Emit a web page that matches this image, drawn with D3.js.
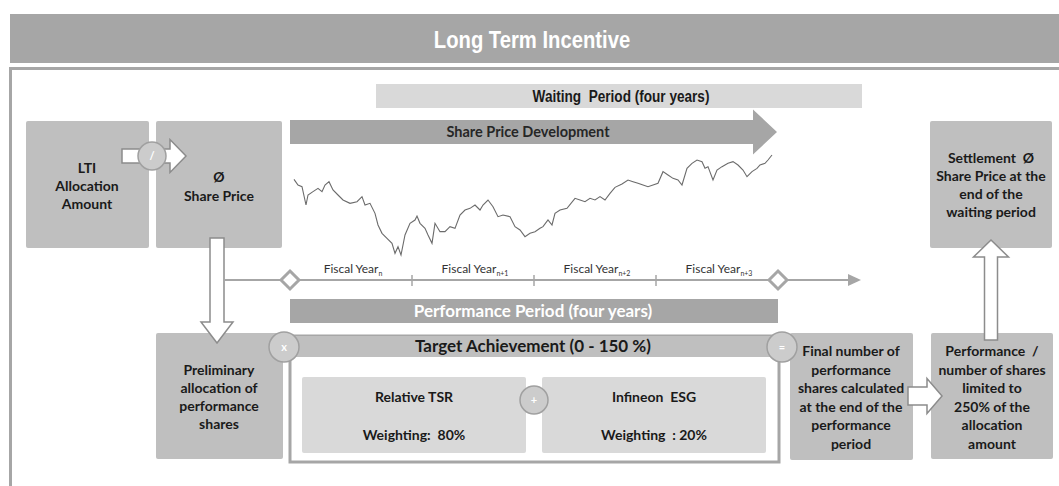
<!DOCTYPE html>
<html>
<head>
<meta charset="utf-8">
<script src="https://cdn.jsdelivr.net/npm/d3@7"></script>
<style>
  body { margin: 0; background: #fff; }
  svg { display: block; }
  .box text { font-family: Lato, "Open Sans", sans-serif; font-weight: 700; font-size: 14px; fill: #1a1a1a; }
</style>
</head>
<body>
<svg id="chart" width="1059" height="486"></svg>
<script>
// share price path (trading day index, price)
const priceDays = [0, 4, 8, 12, 14, 19, 24, 28, 31, 35, 39, 44, 49, 56, 63, 68, 71, 76, 81, 84, 88, 93, 98, 101, 104, 107, 111, 116, 121, 123, 126, 131, 134, 138, 141, 146, 151, 156, 161, 166, 171, 176, 181, 186, 189, 194, 199, 204, 209, 216, 221, 226, 231, 236, 241, 246, 249, 254, 258, 261, 266, 273, 281, 286, 291, 296, 301, 306, 311, 316, 321, 328, 334, 339, 344, 349, 354, 359, 364, 369, 374, 379, 384, 388, 393, 398, 403, 408, 411, 414, 419, 423, 428, 434, 439, 444, 449, 453, 458, 463, 466, 471, 474, 478];
const priceValues = [27.2, 25.5, 25.0, 19.5, 22.5, 23.5, 24.5, 23.5, 25.5, 26.5, 24.0, 22.5, 21.0, 20.0, 20.5, 22.0, 19.5, 20.0, 17.0, 13.5, 11.0, 9.5, 8.0, 5.0, 7.0, 4.5, 10.5, 14.0, 15.0, 16.2, 14.0, 12.5, 10.5, 8.0, 14.0, 11.5, 11.5, 13.0, 12.5, 16.5, 18.0, 18.5, 19.5, 18.0, 19.5, 21.0, 19.0, 16.0, 16.5, 16.0, 13.0, 12.0, 10.0, 11.0, 11.5, 12.5, 13.0, 15.0, 13.5, 17.0, 18.0, 18.5, 21.5, 21.0, 20.5, 21.5, 21.0, 22.0, 21.0, 23.0, 24.8, 25.8, 27.0, 26.5, 26.0, 25.5, 25.0, 25.5, 26.0, 29.5, 28.5, 27.5, 27.0, 25.5, 30.5, 32.0, 33.0, 32.5, 30.5, 31.0, 27.0, 30.0, 31.0, 32.0, 32.5, 31.5, 30.0, 28.0, 29.5, 30.5, 31.5, 32.0, 33.0, 34.5];

const fiscalYears = ["n", "n+1", "n+2", "n+3"];
const weightTSR = 80;
const weightESG = 20;

const ltiLines = ["LTI", "Allocation", "Amount"];
const priceLines = ["Ø", "Share Price"];
const prelimLines = ["Preliminary", "allocation of", "performance", "shares"];
const finalLines = ["Final number of", "performance", "shares calculated", "at the end of the", "performance", "period"];
const limitLines = ["Performance  /", "number of shares", "limited to", "250% of the", "allocation", "amount"];
const settleLines = ["Settlement  Ø", "Share Price at the", "end of the", "waiting period"];

const svg = d3.select("#chart");
const darkGray = "#a6a6a6", midGray = "#bfbfbf", lightGray = "#d9d9d9", arrowStroke = "#8c8c8c";

// title bar and frame
svg.append("rect").attr("x", 10).attr("y", 14).attr("width", 1049).attr("height", 49).attr("fill", darkGray);
svg.append("text").attr("transform", "translate(532,48) scale(0.88,1)").attr("text-anchor", "middle")
  .style("font-family", "'Liberation Sans', Arial, sans-serif")
  .style("font-weight", 700).style("font-size", "23px").attr("fill", "#fff")
  .text("Long Term Incentive");
svg.append("path").attr("d", "M10.5,486 V68.5 H1059").attr("fill", "none")
  .attr("stroke", darkGray).attr("stroke-width", 3);

// waiting period bar
svg.append("rect").attr("x", 376).attr("y", 84).attr("width", 486).attr("height", 24).attr("fill", lightGray);
svg.append("text").attr("transform", "translate(621,102) scale(0.8,1)").attr("text-anchor", "middle")
  .style("font-family", "'Liberation Sans', Arial, sans-serif")
  .style("font-weight", 700).style("font-size", "17px").attr("fill", "#1a1a1a")
  .style("white-space", "pre").text("Waiting  Period (four years)");

// block arrow helpers
function rightArrow(x0, xb, xt, cy, sh, hh) {
  return `M${x0},${cy - sh}H${xb}V${cy - hh}L${xt},${cy}L${xb},${cy + hh}V${cy + sh}H${x0}Z`;
}
function vertArrow(cx, y0, yb, yt, sh, hh) {
  return `M${cx - sh},${y0}V${yb}H${cx - hh}L${cx},${yt}L${cx + hh},${yb}H${cx + sh}V${y0}Z`;
}

// share price development arrow
svg.append("path").attr("d", rightArrow(290, 753, 777, 132, 12, 22.5)).attr("fill", darkGray);
svg.append("text").attr("x", 528).attr("y", 137).attr("text-anchor", "middle")
  .style("font-family", "Lato, sans-serif").style("font-weight", 700).style("font-size", "14.5px")
  .attr("fill", "#262626").text("Share Price Development");

// price line
const xPrice = d3.scaleLinear().domain([0, 478]).range([294, 772]);
const yPrice = d3.scaleLinear().domain([0, 48]).range([270, 110]);
svg.append("path")
  .datum(priceDays.map((d, i) => [d, priceValues[i]]))
  .attr("fill", "none").attr("stroke", "#6b6b6b").attr("stroke-width", 1.1)
  .attr("d", d3.line().x(d => xPrice(d[0])).y(d => yPrice(d[1])));

// boxes
function box(x, y, w, h, fill, lines, cx, y0, step) {
  const g = svg.append("g").attr("class", "box");
  g.append("rect").attr("x", x).attr("y", y).attr("width", w).attr("height", h).attr("rx", 2).attr("fill", fill);
  g.selectAll("text").data(lines).join("text")
    .attr("x", cx).attr("y", (d, i) => y0 + i * step).attr("text-anchor", "middle")
    .style("white-space", "pre").text(d => d);
  return g;
}
box(26, 121, 123, 127, midGray, ltiLines, 87, 173, 18);
box(156, 121, 126, 127, midGray, priceLines, 219, 182, 19);
box(930, 121, 122, 127, midGray, settleLines, 991, 163, 18);
box(156, 333, 127, 126, midGray, prelimLines, 219, 375, 18);
box(790, 333, 123, 127, midGray, finalLines, 851, 356, 18.5);
box(931, 333, 122, 126, midGray, limitLines, 992, 356, 18.5);

// connector circles
function opCircle(cx, cy, r, label) {
  svg.append("circle").attr("cx", cx).attr("cy", cy).attr("r", r)
    .attr("fill", "#cccccc").attr("stroke", "#a0a0a0").attr("stroke-width", 1.5);
  svg.append("text").attr("x", cx).attr("y", cy + 4).attr("text-anchor", "middle")
    .style("font-family", "Lato, sans-serif").style("font-weight", 700).style("font-size", "11px")
    .attr("fill", "#fff").text(label);
}

// white arrows
function whiteArrow(d) {
  svg.append("path").attr("d", d).attr("fill", "#fff").attr("stroke", arrowStroke).attr("stroke-width", 1.5);
}
whiteArrow(rightArrow(122, 170, 186, 156, 7, 16.5));
opCircle(152, 156, 14, "/");
whiteArrow(vertArrow(217, 238, 322, 343, 7, 16));
whiteArrow(vertArrow(991, 340, 257, 240, 6.5, 17.5));
whiteArrow(rightArrow(908, 927, 942, 396, 9, 17.5));

// timeline
const xYear = d3.scaleLinear().domain([0, 4]).range([290, 778]);
svg.append("line").attr("x1", 224).attr("x2", 849).attr("y1", 280).attr("y2", 280)
  .attr("stroke", darkGray).attr("stroke-width", 2);
svg.append("path").attr("d", "M848,274L861,280L848,286Z").attr("fill", darkGray);
svg.selectAll(".tick").data([1, 2, 3]).join("line").attr("class", "tick")
  .attr("x1", d => xYear(d)).attr("x2", d => xYear(d)).attr("y1", 275).attr("y2", 286)
  .attr("stroke", darkGray).attr("stroke-width", 1.5);
svg.selectAll(".diamond").data([0, 4]).join("path").attr("class", "diamond")
  .attr("d", d => `M${xYear(d)},271L${xYear(d) + 9},280L${xYear(d)},289L${xYear(d) - 9},280Z`)
  .attr("fill", "#fff").attr("stroke", darkGray).attr("stroke-width", 3);
const fy = svg.selectAll(".fy").data(fiscalYears).join("text").attr("class", "fy")
  .attr("x", (d, i) => xYear(i + 0.5) + 2).attr("y", 273).attr("text-anchor", "middle")
  .style("font-family", "Lato, sans-serif").style("font-size", "12px").attr("fill", "#333");
fy.append("tspan").text("Fiscal Year");
fy.append("tspan").attr("dy", 3).style("font-size", "7px").text(d => d);

// performance period bar
svg.append("rect").attr("x", xYear(0)).attr("y", 299).attr("width", xYear(4) - xYear(0)).attr("height", 24).attr("fill", darkGray);
svg.append("text").attr("x", 533).attr("y", 317).attr("text-anchor", "middle")
  .style("font-family", "Lato, sans-serif").style("font-weight", 700).style("font-size", "17px")
  .attr("fill", "#fff").text("Performance Period (four years)");

// target achievement frame
svg.append("rect").attr("x", 290).attr("y", 336).attr("width", 489).attr("height", 126)
  .attr("fill", "#fff").attr("stroke", darkGray).attr("stroke-width", 3);
svg.append("rect").attr("x", 291.5).attr("y", 336).attr("width", 486).attr("height", 21).attr("fill", midGray);
svg.append("text").attr("x", 533).attr("y", 352).attr("text-anchor", "middle")
  .style("font-family", "Lato, sans-serif").style("font-weight", 700).style("font-size", "17px")
  .attr("fill", "#1a1a1a").text("Target Achievement (0 - 150 %)");

box(302, 377, 224, 76, lightGray, ["Relative TSR", `Weighting:  ${weightTSR}%`], 414, 402, 37.5);
box(542, 377, 224, 76, lightGray, ["Infineon  ESG", `Weighting  : ${weightESG}%`], 654, 402, 37.5);
opCircle(534, 400, 14, "+");
opCircle(284, 347, 15, "x");
opCircle(782, 347, 15, "=");
</script>
</body>
</html>
